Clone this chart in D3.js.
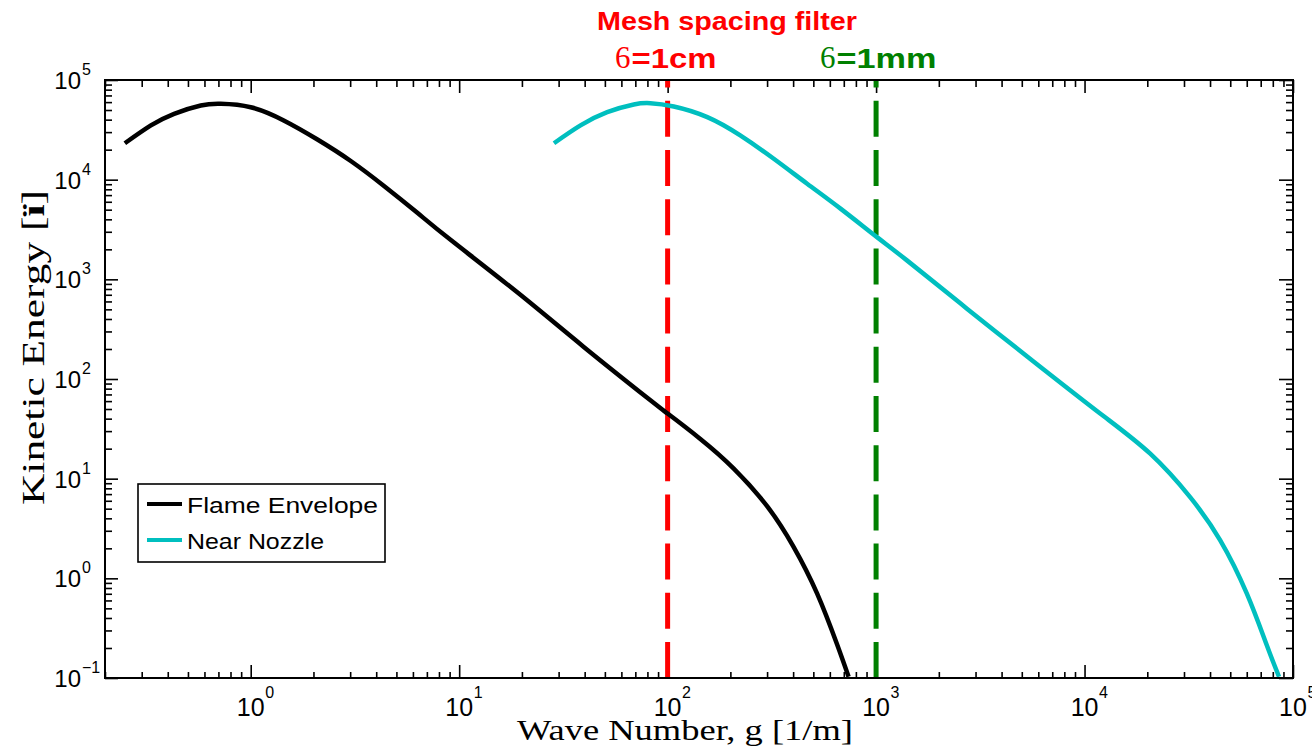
<!DOCTYPE html>
<html>
<head>
<meta charset="utf-8">
<script src="https://cdn.jsdelivr.net/npm/d3@7"></script>
<style>
  html, body { margin: 0; padding: 0; background: #ffffff; }
  svg { display: block; }
</style>
</head>
<body>
<svg id="chart" width="1312" height="748"></svg>
<script>
// Wave number (1/m) and kinetic energy samples for each spectrum
const flameK = [0.249, 0.332, 0.429, 0.576, 0.718, 1.0, 1.44, 2.09, 3.02, 4.36, 6.30, 9.09, 19.0, 39.6, 82.7, 100, 144, 207, 300, 402, 521, 649, 738];
const flameE = [23200, 35000, 45800, 55500, 57700, 53300, 39300, 25300, 15400, 8650, 4650, 2490, 741, 210, 61.2, 45, 24.9, 12.7, 5.30, 2.07, 0.706, 0.219, 0.103];

const nozzleK = [28.5, 38.2, 51.3, 68.8, 82.7, 107, 155, 223, 323, 467, 675, 1010, 1406, 2728, 5690, 11880, 20600, 32100, 44700, 60000, 74800, 85700];
const nozzleE = [23200, 35000, 47500, 56800, 58500, 54200, 42400, 27800, 16200, 9100, 5120, 2650, 1550, 508, 150, 45.1, 17.9, 6.52, 2.42, 0.706, 0.214, 0.103];

const seriesNames = ["Flame Envelope", "Near Nozzle"];

// Mesh spacing filter wave numbers
const filterK = [100, 1000];
const filterSymbol = ["6", "6"];
const filterText = ["=1cm", "=1mm"];

// Axis decades
const xDecades = [0, 1, 2, 3, 4, 5];
const yDecades = [-1, 0, 1, 2, 3, 4, 5];

const svg = d3.select("#chart");
const plotLeft = 105, plotRight = 1293, plotTop = 80, plotBottom = 678;

const x = d3.scaleLog().domain([0.2, 1e5]).range([plotLeft, plotRight]);
const y = d3.scaleLog().domain([0.1, 1e5]).range([plotBottom, plotTop]);

const sans = "'Liberation Sans', Arial, sans-serif";
const serif = "'Liberation Serif', 'Times New Roman', serif";

// minor / major tick values
const xMinor = [], yMinor = [];
for (let n = -1; n <= 4; n++) for (let m = 2; m <= 9; m++) {
  const v = m * Math.pow(10, n);
  if (v >= 0.2 && v <= 1e5) xMinor.push(v);
  if (v >= 0.1 && v <= 1e5) yMinor.push(v);
}
const xMajor = xDecades.map(d => Math.pow(10, d));
const yMajor = yDecades.map(d => Math.pow(10, d));

function styleAxis(g) {
  g.select(".domain").remove();
  g.selectAll(".tick line").attr("stroke", "#000").attr("stroke-width", 1.6);
  g.selectAll(".tick text").remove();
}

// inward ticks on all four sides
const tickSets = [
  [d3.axisBottom, `translate(0,${plotBottom})`, x, xMinor, -6],
  [d3.axisBottom, `translate(0,${plotBottom})`, x, xMajor, -13],
  [d3.axisTop, `translate(0,${plotTop})`, x, xMinor, -7],
  [d3.axisTop, `translate(0,${plotTop})`, x, xMajor, -13],
  [d3.axisLeft, `translate(${plotLeft},0)`, y, yMinor, -7],
  [d3.axisLeft, `translate(${plotLeft},0)`, y, yMajor, -13],
  [d3.axisRight, `translate(${plotRight},0)`, y, yMinor, -7],
  [d3.axisRight, `translate(${plotRight},0)`, y, yMajor, -14]
];
tickSets.forEach(([fn, tr, sc, vals, size]) => {
  svg.append("g").attr("transform", tr)
    .call(fn(sc).tickValues(vals).tickSize(size).tickFormat(""))
    .call(styleAxis);
});

// clip region for data
svg.append("clipPath").attr("id", "plotClip")
  .append("rect").attr("x", plotLeft).attr("y", plotTop)
  .attr("width", plotRight - plotLeft).attr("height", plotBottom - plotTop);

const plot = svg.append("g").attr("clip-path", "url(#plotClip)");

// filter lines
const filterColors = ["#ff0000", "#008000"];
filterK.forEach((k, i) => {
  plot.append("line")
    .attr("x1", x(k)).attr("x2", x(k))
    .attr("y1", y(0.1)).attr("y2", y(1e5))
    .attr("stroke", filterColors[i])
    .attr("stroke-width", 5)
    .attr("stroke-dasharray", "36,13.2");
});

const line = d3.line()
  .x(d => x(d[0])).y(d => y(d[1]))
  .curve(d3.curveNatural);

const seriesColors = ["#000000", "#00bfbf"];
const series = [
  d3.zip(flameK, flameE),
  d3.zip(nozzleK, nozzleE)
];
series.forEach((s, i) => {
  plot.append("path").datum(s)
    .attr("d", line)
    .attr("fill", "none")
    .attr("stroke", seriesColors[i])
    .attr("stroke-width", 4.5)
    .attr("stroke-linejoin", "round");
});

// frame
svg.append("rect")
  .attr("x", plotLeft).attr("y", plotTop)
  .attr("width", plotRight - plotLeft).attr("height", plotBottom - plotTop)
  .attr("fill", "none").attr("stroke", "#000").attr("stroke-width", 2);

// tick labels
xDecades.forEach(d => {
  const px = x(Math.pow(10, d));
  svg.append("text").attr("x", px).attr("y", 716)
    .attr("text-anchor", "middle")
    .attr("font-family", sans).attr("font-size", 25)
    .text("10");
  svg.append("text").attr("x", px + 14.5).attr("y", 698)
    .attr("font-family", sans).attr("font-size", 16)
    .text(String(d));
});
yDecades.forEach(d => {
  const py = y(Math.pow(10, d));
  svg.append("text").attr("x", 81).attr("y", py + 9)
    .attr("text-anchor", "end")
    .attr("font-family", sans).attr("font-size", 24)
    .text("10");
  svg.append("text").attr("x", 82).attr("y", py - 5)
    .attr("font-family", sans).attr("font-size", 16)
    .text(d < 0 ? "\u2212" + Math.abs(d) : String(d));
});

// axis titles
svg.append("text")
  .attr("x", 517).attr("y", 740)
  .attr("font-family", serif).attr("font-size", 30)
  .attr("textLength", 336).attr("lengthAdjust", "spacingAndGlyphs")
  .text("Wave Number, g [1/m]");

const yTitle = svg.append("text")
  .attr("transform", "translate(44,505) rotate(-90)")
  .attr("font-family", serif).attr("font-size", 31)
  .attr("textLength", 315).attr("lengthAdjust", "spacingAndGlyphs");
yTitle.append("tspan").text("Kinetic Energy [");
yTitle.append("tspan").attr("font-weight", "bold").text("\u00ef");
yTitle.append("tspan").text("]");

// filter annotations
svg.append("text")
  .attr("x", 597).attr("y", 30)
  .attr("font-family", sans).attr("font-weight", "bold").attr("font-size", 26)
  .attr("fill", "#ff0000")
  .attr("textLength", 260).attr("lengthAdjust", "spacingAndGlyphs")
  .text("Mesh spacing filter");

const filterLabelX = [615, 820];
const filterTextLen = [85, 100];
filterK.forEach((k, i) => {
  svg.append("text")
    .attr("x", filterLabelX[i]).attr("y", 68)
    .attr("font-family", serif).attr("font-size", 31)
    .attr("fill", filterColors[i])
    .text(filterSymbol[i]);
  svg.append("text")
    .attr("x", filterLabelX[i] + 16.5).attr("y", 68)
    .attr("font-family", sans).attr("font-weight", "bold").attr("font-size", 28)
    .attr("fill", filterColors[i])
    .attr("textLength", filterTextLen[i]).attr("lengthAdjust", "spacingAndGlyphs")
    .text(filterText[i]);
});

// legend
const legend = svg.append("g");
legend.append("rect")
  .attr("x", 138).attr("y", 484).attr("width", 247).attr("height", 78)
  .attr("fill", "#fff").attr("stroke", "#000").attr("stroke-width", 1.6);
const legendY = [504, 540];
const legendLen = [191, 137];
seriesNames.forEach((name, i) => {
  legend.append("line")
    .attr("x1", 147).attr("x2", 182)
    .attr("y1", legendY[i]).attr("y2", legendY[i])
    .attr("stroke", seriesColors[i]).attr("stroke-width", 4);
  legend.append("text")
    .attr("x", 187).attr("y", legendY[i] + 8.5)
    .attr("font-family", sans).attr("font-size", 22)
    .attr("textLength", legendLen[i]).attr("lengthAdjust", "spacingAndGlyphs")
    .text(name);
});
</script>
</body>
</html>
